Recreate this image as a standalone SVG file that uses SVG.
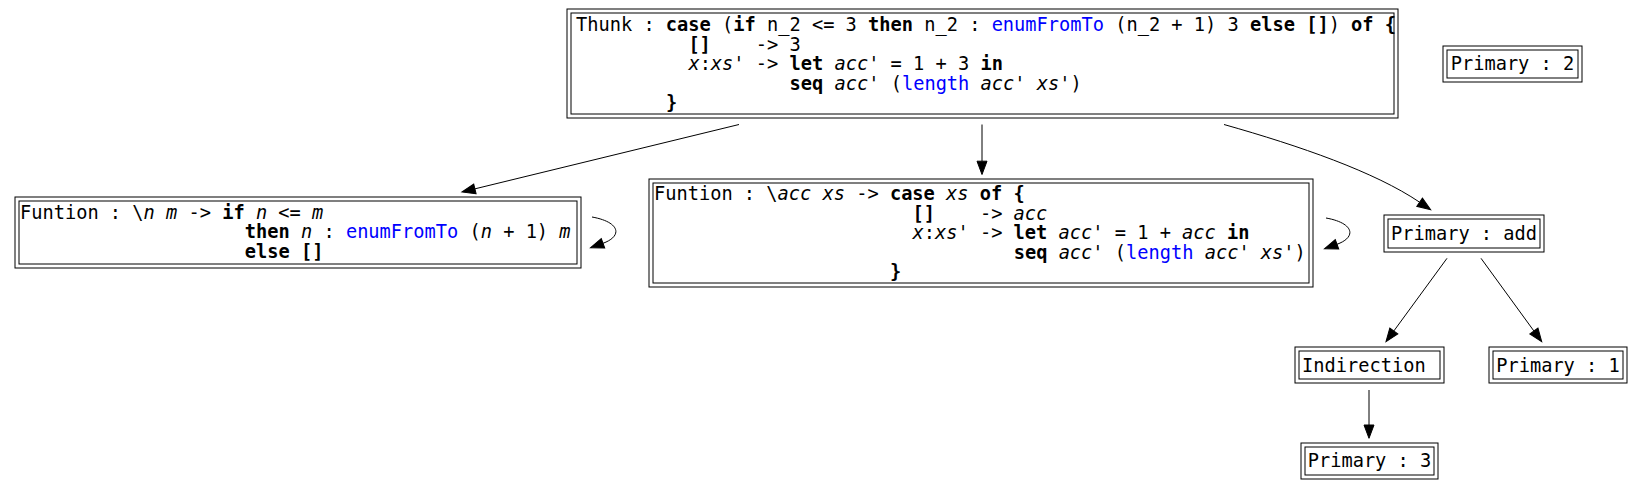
<svg xmlns="http://www.w3.org/2000/svg" width="1643" height="491" viewBox="0 0 1643 491" xml:space="preserve">
<style>
.bg{fill:#fff}
.box{fill:none;stroke:#000;stroke-width:1}
text{font-family:"DejaVu Sans Mono","Liberation Mono",monospace;font-size:18.67px;fill:#000;white-space:pre}
.k{font-weight:bold}
.i{font-style:italic}
.b{fill:#0000ff}
.e{fill:none;stroke:#000;stroke-width:1}
</style>
<defs>
<marker id="ah" markerUnits="userSpaceOnUse" markerWidth="14" markerHeight="10" refX="0" refY="5" orient="auto" overflow="visible"><path d="M0,0 L13.3,5 L0,10 z" fill="#000" stroke="#000" stroke-width="1"/></marker>
</defs>
<rect class="bg" x="0" y="0" width="1643" height="491"/>
<g id="connectors">
<path class="e" d="M739,124.5 L474.9,188.85" marker-end="url(#ah)"/>
<path class="e" d="M982,124.5 L982,161.2" marker-end="url(#ah)"/>
<path class="e" d="M1224,124.5 C1300,146 1375,172 1419.6,202.2" marker-end="url(#ah)"/>
<path class="e" d="M592,217 C620,222 623,236 603,243.3" marker-end="url(#ah)"/>
<path class="e" d="M1326,218 C1354,223 1357,237 1337,244.3" marker-end="url(#ah)"/>
<path class="e" d="M1447,258.3 L1393.85,330.96" marker-end="url(#ah)"/>
<path class="e" d="M1481,258.3 L1533.87,330.95" marker-end="url(#ah)"/>
<path class="e" d="M1369,390 L1369,425" marker-end="url(#ah)"/>
</g>
<g id="thunk">
<rect class="box" x="567" y="9" width="831" height="109"/>
<rect class="box" x="571" y="13" width="823" height="101"/>
<text x="576" y="31">Thunk : <tspan class="k">case</tspan> (<tspan class="k">if</tspan> n_2 &lt;= 3 <tspan class="k">then</tspan> n_2 : <tspan class="b">enumFromTo</tspan> (n_2 + 1) 3 <tspan class="k">else</tspan> <tspan class="k">[]</tspan>) <tspan class="k">of</tspan> <tspan class="k">{</tspan></text>
<text x="688.4" y="50.5"><tspan class="k">[]</tspan>    -&gt; 3</text>
<text x="688.4" y="70"><tspan class="i">x</tspan>:<tspan class="i">xs</tspan>' -&gt; <tspan class="k">let</tspan> <tspan class="i">acc</tspan>' = 1 + 3 <tspan class="k">in</tspan></text>
<text x="789.6" y="89.5"><tspan class="k">seq</tspan> <tspan class="i">acc</tspan>' (<tspan class="b">length</tspan> <tspan class="i">acc</tspan>' <tspan class="i">xs</tspan>')</text>
<text x="665.9" y="109"><tspan class="k">}</tspan></text>
</g>
<g id="primary2">
<rect class="box" x="1443" y="46" width="139" height="36"/>
<rect class="box" x="1447" y="50" width="131" height="28"/>
<text x="1512.5" y="70.3" text-anchor="middle">Primary : 2</text>
</g>
<g id="function1">
<rect class="box" x="15" y="197" width="566" height="71"/>
<rect class="box" x="19" y="201" width="558" height="63"/>
<text x="20" y="218.5">Funtion : \<tspan class="i">n</tspan> <tspan class="i">m</tspan> -&gt; <tspan class="k">if</tspan> <tspan class="i">n</tspan> &lt;= <tspan class="i">m</tspan></text>
<text x="244.8" y="238"><tspan class="k">then</tspan> <tspan class="i">n</tspan> : <tspan class="b">enumFromTo</tspan> (<tspan class="i">n</tspan> + 1) <tspan class="i">m</tspan></text>
<text x="244.8" y="257.5"><tspan class="k">else</tspan> <tspan class="k">[]</tspan></text>
</g>
<g id="function2">
<rect class="box" x="649" y="179" width="664" height="108"/>
<rect class="box" x="653" y="183" width="656" height="100"/>
<text x="654" y="200">Funtion : \<tspan class="i">acc</tspan> <tspan class="i">xs</tspan> -&gt; <tspan class="k">case</tspan> <tspan class="i">xs</tspan> <tspan class="k">of</tspan> <tspan class="k">{</tspan></text>
<text x="912.5" y="219.5"><tspan class="k">[]</tspan>    -&gt; <tspan class="i">acc</tspan></text>
<text x="912.5" y="239"><tspan class="i">x</tspan>:<tspan class="i">xs</tspan>' -&gt; <tspan class="k">let</tspan> <tspan class="i">acc</tspan>' = 1 + <tspan class="i">acc</tspan> <tspan class="k">in</tspan></text>
<text x="1013.7" y="258.5"><tspan class="k">seq</tspan> <tspan class="i">acc</tspan>' (<tspan class="b">length</tspan> <tspan class="i">acc</tspan>' <tspan class="i">xs</tspan>')</text>
<text x="890" y="278"><tspan class="k">}</tspan></text>
</g>
<g id="primary-add">
<rect class="box" x="1384" y="215" width="160" height="37"/>
<rect class="box" x="1388" y="219" width="152" height="29"/>
<text x="1464" y="239.5" text-anchor="middle">Primary : add</text>
</g>
<g id="indirection">
<rect class="box" x="1295" y="347" width="149" height="36"/>
<rect class="box" x="1299" y="351" width="141" height="28"/>
<text x="1369.5" y="371.5" text-anchor="middle">Indirection </text>
</g>
<g id="primary1">
<rect class="box" x="1489" y="347" width="138" height="36"/>
<rect class="box" x="1493" y="351" width="130" height="28"/>
<text x="1558" y="371.5" text-anchor="middle">Primary : 1</text>
</g>
<g id="primary3">
<rect class="box" x="1301" y="443" width="137" height="36"/>
<rect class="box" x="1305" y="447" width="129" height="28"/>
<text x="1369.5" y="467" text-anchor="middle">Primary : 3</text>
</g>
</svg>
